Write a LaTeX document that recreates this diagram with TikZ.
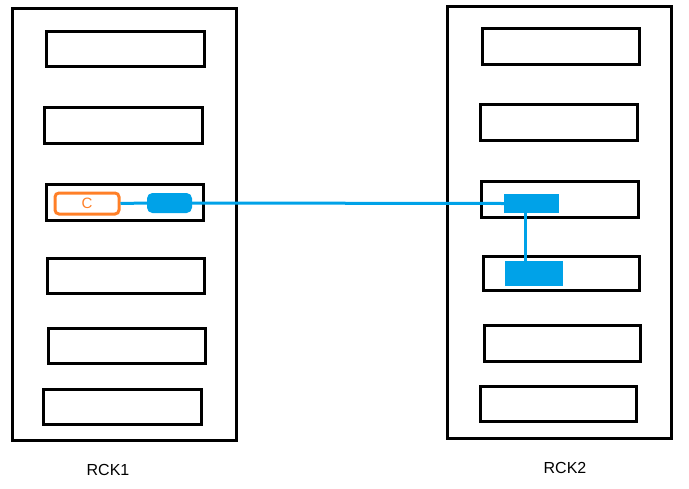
\documentclass[tikz,border=0pt]{standalone}
\usepackage{fontspec}
\setmainfont{Liberation Sans}
\usetikzlibrary{calc}
\definecolor{linkblue}{HTML}{00A2E8}
\definecolor{chiporange}{HTML}{FF7F27}
\tikzset{
  rack/.style={draw=black, line width=3pt},
  slot/.style={draw=black, line width=3pt, inner sep=0pt},
  port/.style={fill=linkblue, draw=linkblue, line width=1pt},
  link/.style={draw=linkblue, line width=3pt},
}
\begin{document}
\begin{tikzpicture}[x=1pt, y=-1pt]
    \useasboundingbox (0,0) rectangle (689,488);
    % --- racks ---
    \draw[rack] (12,8) rectangle (236,440);
    \draw[rack] (447,6) rectangle (671,438);
    % --- slots of RCK1 ---
    \foreach \xa/\ya/\xb/\yb [count=\i] in {46/31/204/66, 44/107/202/143,
        46/184/203/220, 47/258/204/293, 48/328/205/363, 43/389/201/424}
        \draw[slot] (\xa,\ya) rectangle (\xb,\yb) coordinate (ls\i);
    % --- slots of RCK2 ---
    \foreach \xa/\ya/\xb/\yb [count=\i] in {482/28/639/64, 480/104/637/140,
        481/181/638/217, 483/256/639/290, 484/325/640/361, 480/386/636/421}
        \draw[slot] (\xa,\ya) rectangle (\xb,\yb) coordinate (rs\i);
    % --- chip and ports ---
    \node[draw=chiporange, line width=3pt, rounded corners=4pt,
          minimum width=64pt, minimum height=21pt, inner sep=0pt,
          text=chiporange, font=\fontsize{15}{16}\selectfont] (chip) at (87,203.5) {C};
    \node[port, rounded corners=5pt, minimum width=44pt, minimum height=19pt,
          inner sep=0pt] (pa) at (169.5,203) {};
    \node[port, minimum width=54pt, minimum height=18pt, inner sep=0pt]
          (pb) at (531.5,203.5) {};
    \node[port, minimum width=57pt, minimum height=24pt, inner sep=0pt]
          (pc) at (534,273.5) {};
    % --- links ---
    \draw[link] (chip.east) -- (pa.west);
    \draw[link] (pa.east) -- (pb.west);
    \draw[link] ([xshift=-6pt]pb.south) -- ([xshift=-6pt]pb.south |- pc.north);
    % --- labels ---
    \node[font=\fontsize{16}{18}\selectfont] (lbl1) at (108,470) {RCK1};
    \node[font=\fontsize{16}{18}\selectfont] (lbl2) at (565,468) {RCK2};
\end{tikzpicture}
\end{document}
